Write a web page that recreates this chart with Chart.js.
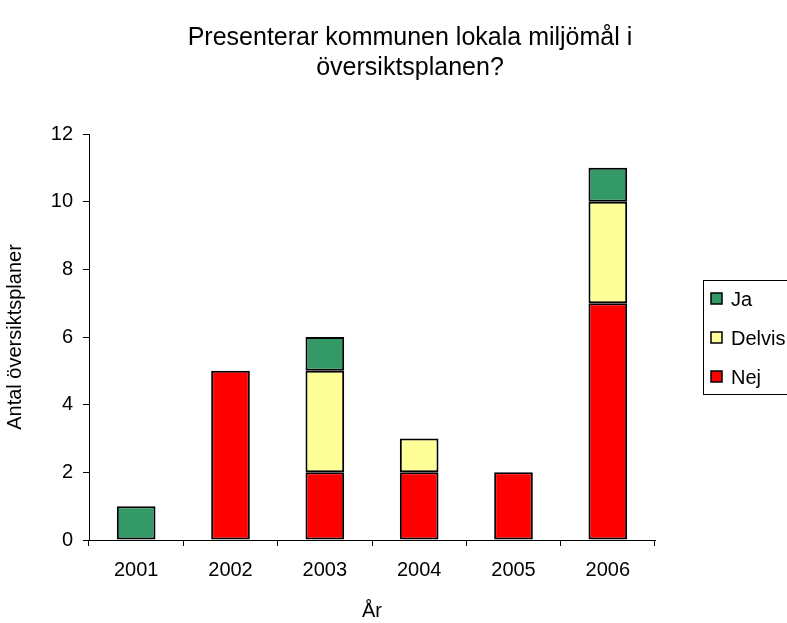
<!DOCTYPE html>
<html>
<head>
<meta charset="utf-8">
<script src="https://cdn.jsdelivr.net/npm/chart.js@4/dist/chart.umd.min.js"></script>
<style>
  html, body { margin: 0; padding: 0; background: #fff; }
  #wrap { width: 787px; height: 623px; }
</style>
</head>
<body>
<div id="wrap"><canvas id="chart" width="787" height="623"></canvas></div>
<script>
const ar = ['2001', '2002', '2003', '2004', '2005', '2006'];
const nej = [0, 5, 2, 2, 2, 7];
const delvis = [0, 0, 3, 1, 0, 3];
const ja = [1, 0, 1, 0, 0, 1];
const titel = ['Presenterar kommunen lokala miljömål i', 'översiktsplanen?'];

const FONT = "'Liberation Sans', Arial, sans-serif";

// Title centred like the original (a bit right of the canvas centre)
const titlePlugin = {
  id: 'titlePlugin',
  afterDraw(chart) {
    const ctx = chart.ctx;
    ctx.save();
    ctx.font = '25px ' + FONT;
    ctx.fillStyle = '#000';
    ctx.textAlign = 'center';
    ctx.textBaseline = 'middle';
    titel.forEach((t, i) => ctx.fillText(t, 410, 38 + i * 30));
    ctx.restore();
  }
};

// Legend with a frame, drawn from the datasets (top item = last dataset)
const frameLegend = {
  id: 'frameLegend',
  afterDraw(chart) {
    const ctx = chart.ctx;
    ctx.save();
    ctx.strokeStyle = '#000';
    ctx.lineWidth = 1;
    ctx.strokeRect(703.5, 280.5, 120, 114);
    const sets = chart.data.datasets.slice().reverse();
    ctx.font = '20px ' + FONT;
    ctx.textBaseline = 'middle';
    sets.forEach((ds, i) => {
      const y = 299 + i * 39;
      ctx.fillStyle = ds.backgroundColor;
      ctx.fillRect(711, y - 6, 11, 11);
      ctx.lineWidth = 1.5;
      ctx.strokeRect(711, y - 6, 11, 11);
      ctx.fillStyle = '#000';
      ctx.fillText(ds.label, 731, y + 1);
    });
    ctx.restore();
  }
};

const config = {
  type: 'bar',
  data: {
    labels: ar,
    datasets: [
      { label: 'Nej', data: nej, backgroundColor: '#FF0000' },
      { label: 'Delvis', data: delvis, backgroundColor: '#FFFF99' },
      { label: 'Ja', data: ja, backgroundColor: '#339966' }
    ]
  },
  options: {
    responsive: false,
    animation: false,
    layout: { padding: { left: 3, right: 132, top: 134, bottom: 0 } },
    datasets: {
      bar: {
        borderColor: '#000',
        borderWidth: 2,
        borderSkipped: false,
        categoryPercentage: 1,
        barPercentage: 0.41
      }
    },
    plugins: {
      legend: { display: false },
      tooltip: { enabled: false },
      title: { display: false }
    },
    scales: {
      x: {
        stacked: true,
        grid: { drawOnChartArea: false, drawTicks: true, tickLength: 6, color: '#000' },
        border: { color: '#000' },
        ticks: { color: '#000', font: { family: FONT, size: 20 }, padding: 12 },
        title: {
          display: true, text: 'År', color: '#000',
          font: { family: FONT, size: 20 }, padding: { top: 5, bottom: 0 }
        },
        afterFit(scale) { scale.height = 83; }
      },
      y: {
        stacked: true,
        min: 0,
        max: 12,
        ticks: { stepSize: 2, color: '#000', font: { family: FONT, size: 20 }, padding: 10 },
        grid: { drawOnChartArea: false, drawTicks: true, tickLength: 6, color: '#000' },
        border: { color: '#000' },
        title: {
          display: true, text: 'Antal översiktsplaner', color: '#000',
          font: { family: FONT, size: 20 }, padding: { top: 0, bottom: 0 }
        },
        afterFit(scale) { scale.width = 86; }
      }
    }
  },
  plugins: [titlePlugin, frameLegend]
};

window.addEventListener('DOMContentLoaded', () => {
  const ctx = document.getElementById('chart').getContext('2d');
  new Chart(ctx, config);
});
</script>
</body>
</html>
